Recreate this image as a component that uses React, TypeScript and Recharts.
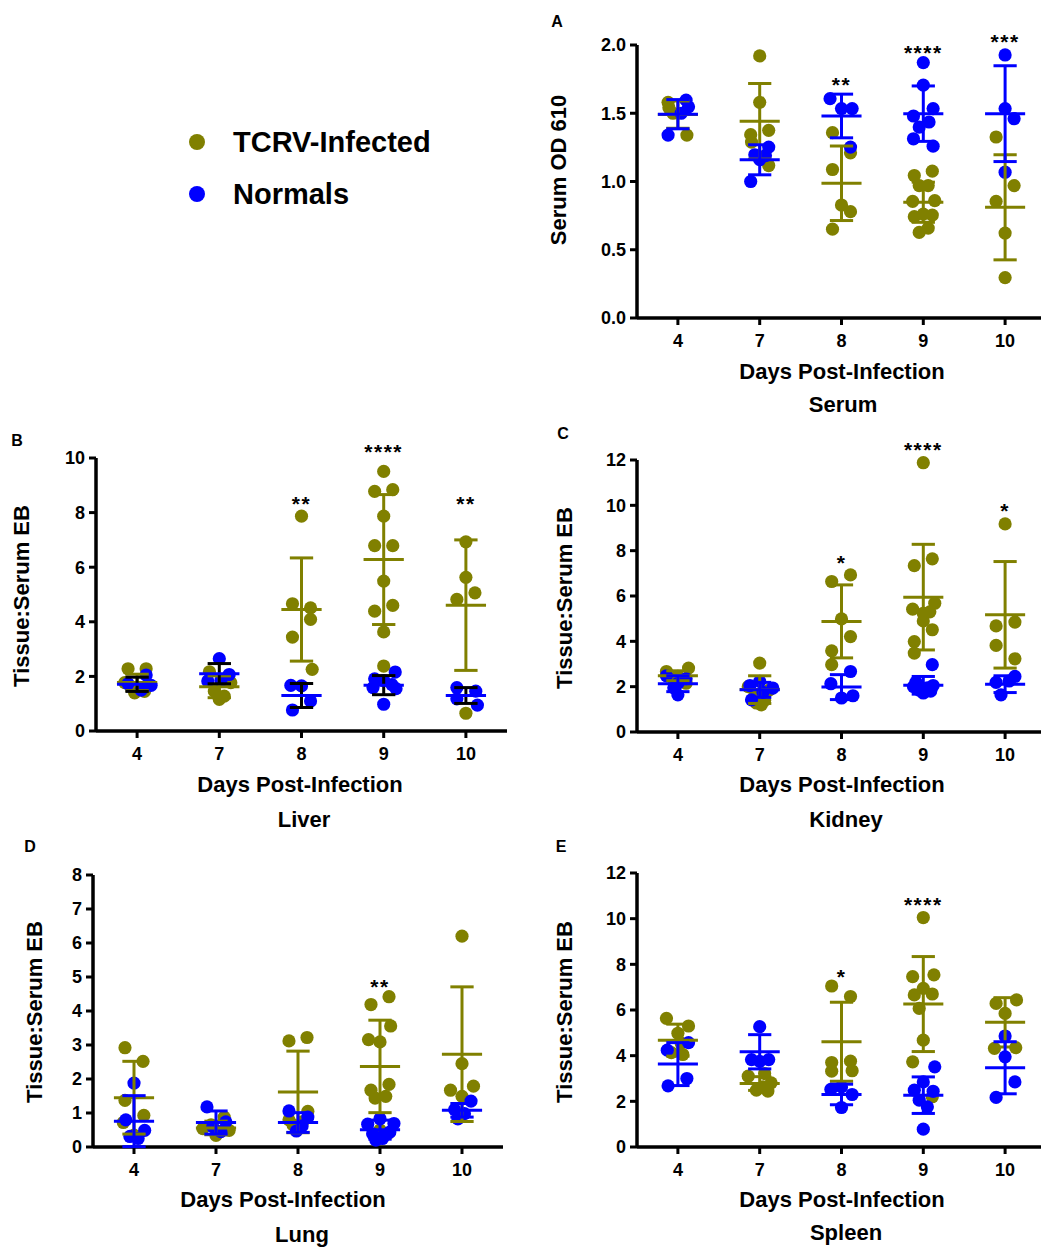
import React from 'react';
import { ScatterChart, Scatter, XAxis, YAxis, ReferenceLine, ReferenceDot } from 'recharts';

const FONT = '"Liberation Sans", Arial, Helvetica, sans-serif';
const OLIVE = '#808000';
const BLUE = '#0000FF';

// ---------- categories / tick labels ----------
const days = ['4', '7', '8', '9', '10'];
const xTicks = [0, 1, 2, 3, 4];
const serumTicks = [0, 0.5, 1, 1.5, 2];
const liverTicks = [0, 2, 4, 6, 8, 10];
const kidneyTicks = [0, 2, 4, 6, 8, 10, 12];
const lungTicks = [0, 1, 2, 3, 4, 5, 6, 7, 8];
const spleenTicks = [0, 2, 4, 6, 8, 10, 12];

// points: [day index, horizontal jitter, value]
type Pt = [number, number, number];

// ---------- A: Serum ----------
const serumInfected: Pt[] = [
  [0, -0.12, 1.58], [0, -0.11, 1.54], [0, -0.06, 1.5], [0, 0.11, 1.34],
  [1, 0, 1.92], [1, 0, 1.58], [1, 0.11, 1.375], [1, -0.11, 1.343], [1, -0.1, 1.289], [1, 0.11, 1.117],
  [2, -0.11, 1.358], [2, 0.11, 1.21], [2, -0.11, 1.088], [2, 0, 0.828], [2, 0.11, 0.779], [2, -0.11, 0.651],
  [3, -0.11, 1.044], [3, 0.11, 1.076], [3, -0.05, 0.97], [3, 0.06, 0.97], [3, -0.13, 0.855], [3, 0.14, 0.86],
  [3, -0.11, 0.742], [3, 0, 0.761], [3, 0.11, 0.754], [3, -0.05, 0.627], [3, 0.06, 0.659],
  [4, -0.11, 1.326], [4, 0.11, 0.97], [4, -0.11, 0.855], [4, 0, 0.622], [4, 0, 0.296],
];
const serumNormals: Pt[] = [
  [0, 0.1, 1.596], [0, 0.13, 1.547], [0, 0.04, 1.5], [0, -0.12, 1.34],
  [1, 0.11, 1.252], [1, -0.06, 1.196], [1, 0.07, 1.19], [1, 0, 1.16], [1, -0.11, 1.0],
  [2, -0.14, 1.607], [2, 0, 1.534], [2, 0.13, 1.534], [2, 0.11, 1.252],
  [3, 0, 1.871], [3, 0, 1.706], [3, 0.12, 1.534], [3, -0.12, 1.48], [3, 0.07, 1.436], [3, -0.05, 1.399], [3, -0.12, 1.313], [3, 0.12, 1.259],
  [4, 0, 1.927], [4, 0, 1.534], [4, 0.11, 1.46], [4, 0, 1.068],
];
const serumInfMean = [1.49, 1.441, 0.987, 0.848, 0.811];
const serumInfSD = [0.1, 0.277, 0.273, 0.147, 0.385];
const serumNorMean = [1.493, 1.159, 1.48, 1.497, 1.497];
const serumNorSD = [0.107, 0.11, 0.16, 0.203, 0.351];
const serumNotes: [number, number, string][] = [[2, 1.742, '**'], [3, 1.976, '****'], [4, 2.06, '***']];

// ---------- B: Liver ----------
const liverInfected: Pt[] = [
  [0, -0.11, 2.28], [0, 0.11, 2.28], [0, -0.15, 1.77], [0, 0, 1.55], [0, -0.03, 1.4], [0, 0.09, 1.45],
  [1, -0.12, 2.17], [1, 0.14, 1.77], [1, -0.06, 1.46], [1, 0.06, 1.28], [1, 0, 1.16], [1, 0.1, 1.9],
  [2, 0, 7.87], [2, -0.11, 4.66], [2, 0.11, 4.51], [2, 0.11, 4.09], [2, -0.11, 3.44], [2, 0.13, 2.26],
  [3, 0, 9.51], [3, -0.11, 8.78], [3, 0.11, 8.84], [3, 0, 7.87], [3, -0.11, 6.79], [3, 0.11, 6.79],
  [3, 0, 5.49], [3, -0.11, 4.39], [3, 0.11, 4.6], [3, 0, 3.63], [3, 0, 2.38],
  [4, 0, 6.93], [4, 0, 5.63], [4, 0.11, 5.06], [4, -0.11, 4.82], [4, 0, 0.65],
];
const liverNormals: Pt[] = [
  [0, 0.11, 2.05], [0, -0.11, 1.73], [0, 0.17, 1.67], [0, 0.05, 1.5],
  [1, 0, 2.65], [1, 0.12, 2.07], [1, -0.14, 1.83], [1, 0.02, 1.85],
  [2, -0.13, 1.67], [2, 0, 1.65], [2, 0.11, 1.1], [2, -0.11, 0.77],
  [3, 0.14, 2.16], [3, -0.11, 1.91], [3, 0, 1.85], [3, 0.1, 1.7], [3, -0.13, 1.59], [3, 0.15, 1.55], [3, 0, 0.98],
  [4, -0.11, 1.59], [4, 0.12, 1.46], [4, -0.11, 1.18], [4, 0.14, 0.95],
];
const liverInfMean = [1.78, 1.62, 4.45, 6.28, 4.61];
const liverInfSD = [0.3, 0.4, 1.89, 2.38, 2.39];
const liverNorMean = [1.71, 2.1, 1.3, 1.68, 1.3];
const liverNorSD = [0.26, 0.37, 0.44, 0.35, 0.29];
const liverNotes: [number, number, string][] = [[2, 8.5, '**'], [3, 10.4, '****'], [4, 8.5, '**']];

// ---------- C: Kidney ----------
const kidneyInfected: Pt[] = [
  [0, 0.13, 2.82], [0, -0.14, 2.67], [0, 0, 2.45], [0, -0.05, 2.3], [0, 0.1, 2.15],
  [1, 0, 3.04], [1, -0.14, 2.0], [1, 0.12, 1.86], [1, -0.06, 1.6], [1, 0.06, 1.4], [1, -0.04, 1.28], [1, 0.02, 1.2],
  [2, -0.12, 6.64], [2, 0.11, 6.93], [2, 0, 4.99], [2, 0.11, 4.21], [2, -0.12, 3.58], [2, -0.12, 2.97],
  [3, 0, 11.88], [3, 0.11, 7.64], [3, -0.11, 7.34], [3, 0.14, 5.68], [3, -0.13, 5.42], [3, 0, 5.24],
  [3, 0.08, 5.3], [3, 0, 4.9], [3, 0.11, 4.51], [3, -0.11, 3.99], [3, -0.11, 3.48],
  [4, 0, 9.18], [4, -0.11, 4.68], [4, 0.12, 4.85], [4, -0.11, 3.82], [4, 0.12, 3.23],
];
const kidneyNormals: Pt[] = [
  [0, -0.14, 2.48], [0, 0.1, 2.35], [0, 0, 2.15], [0, -0.05, 1.95], [0, 0, 1.64],
  [1, 0, 2.23], [1, -0.12, 2.05], [1, 0.16, 1.94], [1, 0.04, 1.75], [1, -0.1, 1.42],
  [2, 0.11, 2.67], [2, -0.13, 2.13], [2, 0, 1.5], [2, 0.14, 1.6],
  [3, 0.11, 2.97], [3, -0.09, 2.2], [3, 0.12, 2.05], [3, -0.12, 2.0], [3, 0.05, 1.95], [3, -0.05, 1.85], [3, 0.09, 1.8], [3, 0, 1.72],
  [4, 0.12, 2.45], [4, -0.11, 2.19], [4, 0.05, 2.25], [4, -0.05, 1.64],
];
const kidneyInfMean = [2.48, 1.87, 4.88, 5.95, 5.17];
const kidneyInfSD = [0.22, 0.61, 1.61, 2.33, 2.35];
const kidneyNorMean = [2.13, 1.86, 1.98, 2.06, 2.11];
const kidneyNorSD = [0.35, 0.33, 0.55, 0.39, 0.37];
const kidneyNotes: [number, number, string][] = [[2, 7.67, '*'], [3, 12.66, '****'], [4, 9.97, '*']];

// ---------- D: Lung ----------
const lungInfected: Pt[] = [
  [0, -0.11, 2.92], [0, 0.11, 2.52], [0, -0.11, 1.37], [0, 0.12, 0.93], [0, -0.13, 0.72], [0, 0, 0.35],
  [1, 0.1, 0.88], [1, -0.06, 0.65], [1, -0.16, 0.54], [1, 0.16, 0.49], [1, 0.05, 0.45], [1, 0, 0.34],
  [2, -0.11, 3.12], [2, 0.11, 3.22], [2, 0.12, 1.05], [2, -0.11, 0.8], [2, 0.06, 0.75], [2, -0.06, 0.65],
  [3, 0.11, 4.42], [3, -0.11, 4.19], [3, 0.13, 3.56], [3, -0.14, 3.16], [3, 0, 3.09], [3, 0.11, 1.84],
  [3, -0.11, 1.67], [3, -0.06, 1.44], [3, 0.07, 1.49], [3, 0, 0.5], [3, 0.1, 0.4],
  [4, 0, 6.2], [4, 0, 2.45], [4, -0.14, 1.67], [4, 0.14, 1.79], [4, 0, 1.49],
];
const lungNormals: Pt[] = [
  [0, 0, 1.88], [0, -0.1, 0.8], [0, 0.13, 0.49], [0, -0.05, 0.31], [0, 0.05, 0.25],
  [1, -0.11, 1.18], [1, 0.12, 0.74], [1, -0.04, 0.6], [1, 0.06, 0.45],
  [2, -0.11, 1.06], [2, 0.12, 0.88], [2, 0.05, 0.62], [2, -0.02, 0.47],
  [3, 0, 0.83], [3, -0.15, 0.67], [3, 0.17, 0.69], [3, 0.12, 0.44], [3, -0.09, 0.39], [3, 0.04, 0.3], [3, 0.03, 0.25], [3, -0.05, 0.2],
  [4, 0.11, 1.35], [4, -0.09, 1.1], [4, 0.03, 0.98], [4, -0.05, 0.83],
];
const lungInfMean = [1.45, 0.56, 1.62, 2.37, 2.73];
const lungInfSD = [1.07, 0.2, 1.2, 1.36, 1.98];
const lungNorMean = [0.76, 0.72, 0.72, 0.51, 1.08];
const lungNorSD = [0.75, 0.34, 0.29, 0.28, 0.2];
const lungNotes: [number, number, string][] = [[3, 4.86, '**']];

// ---------- E: Spleen ----------
const spleenInfected: Pt[] = [
  [0, -0.14, 5.63], [0, 0.13, 5.3], [0, 0, 4.98], [0, 0.04, 4.55], [0, -0.08, 4.13], [0, 0.06, 4.05],
  [1, -0.14, 3.1], [1, 0.06, 3.22], [1, 0.14, 2.81], [1, -0.04, 2.49], [1, 0.04, 2.63], [1, 0.1, 2.45],
  [2, -0.12, 7.05], [2, 0.11, 6.59], [2, -0.12, 3.7], [2, 0.11, 3.76], [2, -0.12, 3.32], [2, 0.13, 3.34],
  [3, 0, 10.05], [3, -0.13, 7.46], [3, 0.13, 7.54], [3, 0, 6.95], [3, -0.11, 6.66], [3, 0.11, 6.7],
  [3, -0.05, 6.07], [3, 0, 4.68], [3, -0.13, 3.73], [3, 0.11, 2.2],
  [4, 0.14, 6.44], [4, -0.11, 6.29], [4, 0, 5.85], [4, 0.13, 4.35], [4, -0.13, 4.32],
];
const spleenNormals: Pt[] = [
  [0, 0.13, 4.57], [0, -0.13, 4.24], [0, 0.11, 3.0], [0, -0.12, 2.68],
  [1, 0, 5.27], [1, -0.1, 3.83], [1, 0.11, 3.83], [1, 0, 3.75],
  [2, -0.13, 2.52], [2, 0, 2.63], [2, 0.13, 2.3], [2, 0, 1.73],
  [3, 0.14, 3.51], [3, 0, 2.85], [3, -0.11, 2.49], [3, 0.12, 2.44], [3, -0.05, 2.05], [3, 0.05, 1.76], [3, 0, 0.78],
  [4, 0, 4.86], [4, 0, 3.95], [4, 0.12, 2.85], [4, -0.11, 2.17],
];
const spleenInfMean = [4.68, 2.78, 4.61, 6.26, 5.46];
const spleenInfSD = [0.7, 0.3, 1.73, 2.08, 1.08];
const spleenNorMean = [3.63, 4.17, 2.3, 2.27, 3.47];
const spleenNorSD = [0.94, 0.75, 0.45, 0.8, 1.14];
const spleenNotes: [number, number, string][] = [[2, 7.68, '*'], [3, 10.83, '****']];

// ---------- helpers ----------
const toXY = (pts: Pt[]) => pts.map(([d, j, v]) => ({ x: d + j, y: v }));

const MEAN_HALF = 0.245;
const CAP_HALF = 0.142;
const MARGIN_TOP = 36;
const YAXIS_W = 70;
const XAXIS_H = 45;

const Dot = (color: string) => (p: any) => <circle cx={p.cx} cy={p.cy} r={6.6} fill={color} />;

function errorBars(means: number[], sds: number[], meanColor: string, sdColor: string, key: string) {
  const out: React.ReactNode[] = [];
  means.forEach((m, i) => {
    const s = sds[i];
    const common = { strokeWidth: 3, ifOverflow: 'visible' as const, zIndex: 650 };
    out.push(<ReferenceLine key={`${key}v${i}`} segment={[{ x: i, y: m - s }, { x: i, y: m + s }]} stroke={sdColor} {...common} />);
    out.push(<ReferenceLine key={`${key}t${i}`} segment={[{ x: i - CAP_HALF, y: m + s }, { x: i + CAP_HALF, y: m + s }]} stroke={sdColor} {...common} />);
    out.push(<ReferenceLine key={`${key}b${i}`} segment={[{ x: i - CAP_HALF, y: m - s }, { x: i + CAP_HALF, y: m - s }]} stroke={sdColor} {...common} />);
    out.push(<ReferenceLine key={`${key}m${i}`} segment={[{ x: i - MEAN_HALF, y: m }, { x: i + MEAN_HALF, y: m }]} stroke={meanColor} {...common} />);
  });
  return out;
}

type PanelProps = {
  left: number; top: number; w: number; h: number;
  yTicks: number[]; fmt: (v: number) => string;
  inf: Pt[]; nor: Pt[];
  infMean: number[]; infSD: number[]; norMean: number[]; norSD: number[];
  norSdColor: string;
  notes: [number, number, string][];
};

function Panel(p: PanelProps) {
  const width = p.w + YAXIS_W + 2;
  const height = p.h + MARGIN_TOP + XAXIS_H;
  const tickStyle = { fill: '#000', fontSize: 18, fontWeight: 700, fontFamily: FONT };
  const axisLine = { stroke: '#000', strokeWidth: 3.5 };
  const tickLine = { stroke: '#000', strokeWidth: 3 };
  return (
    <div style={{ position: 'absolute', left: p.left - YAXIS_W, top: p.top - MARGIN_TOP, width, height }}>
      <ScatterChart width={width} height={height} margin={{ top: MARGIN_TOP, right: 2, left: 0, bottom: 0 }}>
        <XAxis
          type="number" dataKey="x" domain={[-0.5, 4.5]} ticks={xTicks}
          tickFormatter={(v: number) => days[Math.round(v)]}
          height={XAXIS_H} tick={tickStyle} axisLine={axisLine} tickLine={tickLine}
          tickSize={7} tickMargin={9} interval={0}
        />
        <YAxis
          type="number" dataKey="y" domain={[p.yTicks[0], p.yTicks[p.yTicks.length - 1]]} ticks={p.yTicks}
          tickFormatter={p.fmt} width={YAXIS_W} tick={tickStyle} axisLine={axisLine} tickLine={tickLine}
          tickSize={7} tickMargin={4} interval={0}
        />
        <Scatter data={toXY(p.inf)} fill={OLIVE} shape={Dot(OLIVE)} isAnimationActive={false} />
        {errorBars(p.infMean, p.infSD, OLIVE, OLIVE, 'i')}
        <Scatter data={toXY(p.nor)} fill={BLUE} shape={Dot(BLUE)} isAnimationActive={false} />
        {errorBars(p.norMean, p.norSD, BLUE, p.norSdColor, 'n')}
        {p.notes.map(([d, v, s], i) => (
          <ReferenceDot
            key={`note${i}`} x={d} y={v} r={0} ifOverflow="visible"
            shape={(sp: any) => (
              <text x={sp.cx} y={sp.cy + 12} textAnchor="middle" fontSize={21} fontWeight={700}
                fontFamily={FONT} fill="#000" letterSpacing={1.5}>{s}</text>
            )}
          />
        ))}
      </ScatterChart>
    </div>
  );
}

const T = ({ x, y, size, children, rotate }: { x: number; y: number; size: number; children: React.ReactNode; rotate?: boolean }) => (
  <div style={{
    position: 'absolute', left: x, top: y, transform: `translate(-50%, -50%)${rotate ? ' rotate(-90deg)' : ''}`,
    fontFamily: FONT, fontWeight: 700, fontSize: size, lineHeight: 1, whiteSpace: 'nowrap', color: '#000',
  }}>{children}</div>
);

const fmt1 = (v: number) => v.toFixed(1);
const fmt0 = (v: number) => String(v);

export default function App() {
  return (
    <div style={{ position: 'absolute', left: 0, top: 0, width: 1041, height: 1247, overflow: 'hidden', background: '#fff' }}>
      {/* Legend */}
      <div style={{ position: 'absolute', left: 189, top: 134, width: 16, height: 16, borderRadius: '50%', background: OLIVE }} />
      <div style={{ position: 'absolute', left: 189, top: 186, width: 16, height: 16, borderRadius: '50%', background: BLUE }} />
      <div style={{ position: 'absolute', left: 233, top: 142, transform: 'translateY(-50%)', fontFamily: FONT, fontWeight: 700, fontSize: 29, lineHeight: 1, whiteSpace: 'nowrap' }}>TCRV-Infected</div>
      <div style={{ position: 'absolute', left: 233, top: 194, transform: 'translateY(-50%)', fontFamily: FONT, fontWeight: 700, fontSize: 29, lineHeight: 1, whiteSpace: 'nowrap' }}>Normals</div>

      <Panel left={637} top={45} w={409} h={273} yTicks={serumTicks} fmt={fmt1}
        inf={serumInfected} nor={serumNormals} infMean={serumInfMean} infSD={serumInfSD}
        norMean={serumNorMean} norSD={serumNorSD} norSdColor={BLUE} notes={serumNotes} />
      <Panel left={96} top={458} w={411} h={273} yTicks={liverTicks} fmt={fmt0}
        inf={liverInfected} nor={liverNormals} infMean={liverInfMean} infSD={liverInfSD}
        norMean={liverNorMean} norSD={liverNorSD} norSdColor="#000" notes={liverNotes} />
      <Panel left={637} top={460} w={409} h={272} yTicks={kidneyTicks} fmt={fmt0}
        inf={kidneyInfected} nor={kidneyNormals} infMean={kidneyInfMean} infSD={kidneyInfSD}
        norMean={kidneyNorMean} norSD={kidneyNorSD} norSdColor={BLUE} notes={kidneyNotes} />
      <Panel left={93} top={875} w={410} h={272} yTicks={lungTicks} fmt={fmt0}
        inf={lungInfected} nor={lungNormals} infMean={lungInfMean} infSD={lungInfSD}
        norMean={lungNorMean} norSD={lungNorSD} norSdColor={BLUE} notes={lungNotes} />
      <Panel left={637} top={873} w={409} h={274} yTicks={spleenTicks} fmt={fmt0}
        inf={spleenInfected} nor={spleenNormals} infMean={spleenInfMean} infSD={spleenInfSD}
        norMean={spleenNorMean} norSD={spleenNorSD} norSdColor={BLUE} notes={spleenNotes} />

      {/* Panel letters */}
      <T x={557} y={22} size={16}>A</T>
      <T x={17} y={441} size={16}>B</T>
      <T x={563} y={434} size={16}>C</T>
      <T x={30} y={847} size={16}>D</T>
      <T x={561} y={847} size={16}>E</T>

      {/* Y axis titles */}
      <T x={559} y={170} size={22} rotate>Serum OD 610</T>
      <T x={22} y={596} size={22} rotate>Tissue:Serum EB</T>
      <T x={565} y={598} size={22} rotate>Tissue:Serum EB</T>
      <T x={35} y={1012} size={22} rotate>Tissue:Serum EB</T>
      <T x={565} y={1012} size={22} rotate>Tissue:Serum EB</T>

      {/* X axis titles */}
      <T x={842} y={372} size={22}>Days Post-Infection</T>
      <T x={300} y={785} size={22}>Days Post-Infection</T>
      <T x={842} y={785} size={22}>Days Post-Infection</T>
      <T x={283} y={1200} size={22}>Days Post-Infection</T>
      <T x={842} y={1200} size={22}>Days Post-Infection</T>

      {/* Panel titles */}
      <T x={843} y={405} size={22}>Serum</T>
      <T x={304} y={820} size={22}>Liver</T>
      <T x={846} y={820} size={22}>Kidney</T>
      <T x={302} y={1235} size={22}>Lung</T>
      <T x={846} y={1233} size={22}>Spleen</T>
    </div>
  );
}
